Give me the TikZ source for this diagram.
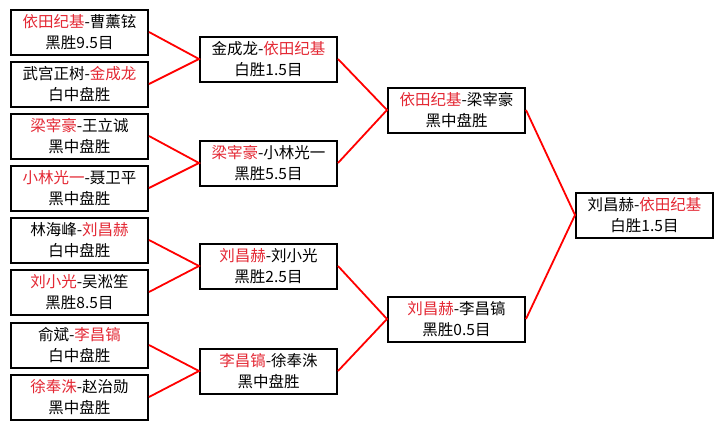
\documentclass[tikz,border=0pt]{standalone}
\usepackage{fontspec}
\setmainfont{Noto Sans CJK SC}
\usetikzlibrary{positioning}
\definecolor{winred}{RGB}{228,40,52}

\tikzset{
  match/.style={draw=black, line width=2pt, fill=white, minimum width=137pt,
    minimum height=45pt, inner sep=0pt, align=center,
    font=\fontsize{15.5}{21}\selectfont},
  link/.style={red, line width=1.8pt}
}
\newcommand{\winner}[1]{\textcolor{winred}{#1}}

\begin{document}
\begin{tikzpicture}[x=1pt, y=-1pt]
  \useasboundingbox (0,0) rectangle (724,429);

  % === 第一轮 ===
  \node[match] (r1a) at (79.5,32)  {\winner{依田纪基}-曹薰铉\\黑胜9.5目};
  \node[match] (r1b) at (79.5,84)  {武宫正树-\winner{金成龙}\\白中盘胜};
  \node[match] (r1c) at (79.5,136) {\winner{梁宰豪}-王立诚\\黑中盘胜};
  \node[match] (r1d) at (79.5,188) {\winner{小林光一}-聂卫平\\黑中盘胜};
  \node[match] (r1e) at (79.5,240) {林海峰-\winner{刘昌赫}\\白中盘胜};
  \node[match] (r1f) at (79.5,292) {\winner{刘小光}-吴淞笙\\黑胜8.5目};
  \node[match] (r1g) at (79.5,345) {俞斌-\winner{李昌镐}\\白中盘胜};
  \node[match] (r1h) at (79.5,397) {\winner{徐奉洙}-赵治勋\\黑中盘胜};

  % === 第二轮 ===
  \node[match] (r2a) at (268.5,59)  {金成龙-\winner{依田纪基}\\白胜1.5目};
  \node[match] (r2b) at (268.5,163) {\winner{梁宰豪}-小林光一\\黑胜5.5目};
  \node[match] (r2c) at (268.5,266) {\winner{刘昌赫}-刘小光\\黑胜2.5目};
  \node[match] (r2d) at (268.5,371) {\winner{李昌镐}-徐奉洙\\黑中盘胜};

  % === 半决赛 ===
  \node[match] (r3a) at (456.5,110) {\winner{依田纪基}-梁宰豪\\黑中盘胜};
  \node[match] (r3b) at (456.5,319) {\winner{刘昌赫}-李昌镐\\黑胜0.5目};

  % === 决赛 ===
  \node[match] (final) at (644.5,215) {刘昌赫-\winner{依田纪基}\\白胜1.5目};

  % 连线
  \draw[link] (r1a.east) -- (r2a.west) -- (r1b.east);
  \draw[link] (r1c.east) -- (r2b.west) -- (r1d.east);
  \draw[link] (r1e.east) -- (r2c.west) -- (r1f.east);
  \draw[link] (r1g.east) -- (r2d.west) -- (r1h.east);
  \draw[link] (r2a.east) -- (r3a.west) -- (r2b.east);
  \draw[link] (r2c.east) -- (r3b.west) -- (r2d.east);
  \draw[link] (r3a.east) -- (final.west) -- (r3b.east);
\end{tikzpicture}
\end{document}
